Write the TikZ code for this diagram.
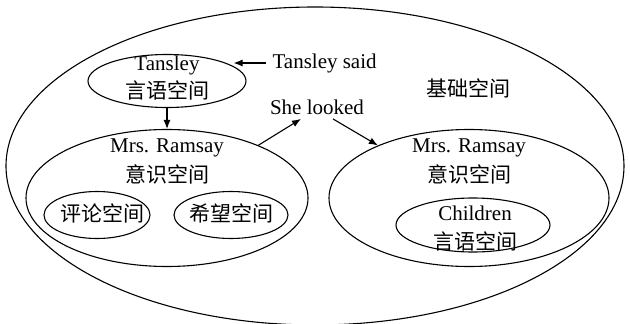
\documentclass[tikz,border=0pt]{standalone}
\usepackage{fontspec}
\setmainfont{Liberation Serif}
\newfontfamily\cjk{Noto Sans CJK SC}
\usetikzlibrary{shapes.geometric,arrows.meta}
\begin{document}
\begin{tikzpicture}[x=1pt,y=-1pt,line width=1.1pt,
  every node/.style={font=\fontsize{21}{24}\selectfont, inner sep=0pt},
  oval/.style={draw, ellipse, inner sep=0pt},
  arr/.style={-{Latex[length=9pt,width=7pt]}}]
\useasboundingbox (0,0) rectangle (630,324);
% ellipses
\node[oval, minimum width=618, minimum height=318] (base) at (315,166) {};
\node[oval, minimum width=158, minimum height=53] (tansley) at (167,81) {};
\node[oval, minimum width=282, minimum height=137] (leftM) at (167,198) {};
\node[oval, minimum width=106, minimum height=47] (comment) at (97,215) {};
\node[oval, minimum width=114, minimum height=47] (hope) at (231,215) {};
\node[oval, minimum width=280, minimum height=137] (rightM) at (469,198) {};
\node[oval, minimum width=154, minimum height=54] (children) at (473,225) {};
% texts
\node (t1) at (167,65) {Tansley};
\node (t2) at (167,90) {\cjk 言语空间};
\node[anchor=west] (said) at (272,63) {Tansley said};
\node (basetxt) at (468,88) {\cjk 基础空间};
\node (she) at (317,107) {She looked};
\node (lm1) at (167,148) {Mrs. Ramsay};
\node (lm2) at (167,174) {\cjk 意识空间};
\node (ct) at (102,213) {\cjk 评论空间};
\node (ht) at (231,213) {\cjk 希望空间};
\node (rm1) at (469,148) {Mrs. Ramsay};
\node (rm2) at (469,174) {\cjk 意识空间};
\node (c1) at (475,213) {Children};
\node (c2) at (475,241) {\cjk 言语空间};
% connectors
\draw[arr] ([xshift=-6pt]said.west) -- ([xshift=-13pt]tansley.east |- said.west);
\draw[arr] (tansley.south) -- (leftM.north);
\draw[arr] (leftM.30) -- ([xshift=-16pt,yshift=-4pt]she.south);
\draw[arr] ([xshift=16pt,yshift=-4pt]she.south) -- (rightM.150);
\end{tikzpicture}
\end{document}
